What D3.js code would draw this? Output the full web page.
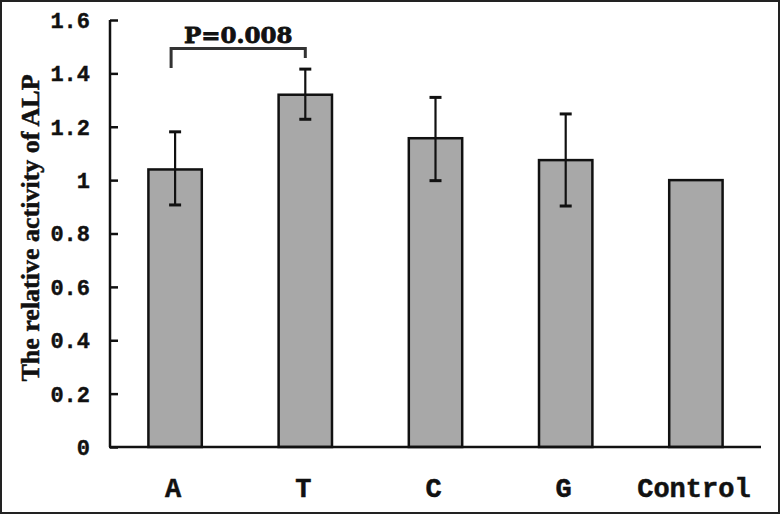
<!DOCTYPE html>
<html>

<head>
  <meta charset="UTF-8">
  <style>
    body { margin: 0; background: #fff; }
    svg { display: block; }
    .tick-label { font-family: "Liberation Mono", monospace; font-weight: bold; font-size: 22px; fill: #111; stroke: #111; stroke-width: 0.4px; }
    .cat-label { font-family: "Liberation Mono", monospace; font-weight: bold; font-size: 27px; fill: #111; stroke: #111; stroke-width: 0.5px; }
  </style>
</head>

<body>
  <svg></svg>
  <script src="https://d3js.org/d3.v7.min.js"></script>

  <script>
    // chart values
    let categories = ["A", "T", "C", "G", "Control"];
    let means = [1.04, 1.32, 1.157, 1.075, 1.0];
    let errLow = [0.907, 1.228, 0.998, 0.903, null];
    let errHigh = [1.181, 1.416, 1.31, 1.248, null];
    let yTicks = [0, 0.2, 0.4, 0.6, 0.8, 1, 1.2, 1.4, 1.6];
    let yTickLabels = ["0", "0.2", "0.4", "0.6", "0.8", "1", "1.2", "1.4", "1.6"];
    let yTitle = "The relative activity of ALP";
    let pText = "P=0.008";
    let pPair = ["A", "T"];

    let width = 780, height = 514;

    let svg = d3.select("svg")
      .attr("width", width)
      .attr("height", height);

    // outer frame
    svg.append("rect")
      .attr("x", 1).attr("y", 1)
      .attr("width", width - 2).attr("height", height - 2)
      .attr("fill", "#fff")
      .attr("stroke", "#222")
      .attr("stroke-width", 2);

    let x = d3.scaleBand()
      .domain(categories)
      .range([110, 761])
      .paddingInner(0.59)
      .paddingOuter(0.295);

    let y = d3.scaleLinear()
      .domain([0, 1.6])
      .range([447, 20]);

    // bars
    svg.append("g")
      .selectAll("rect")
      .data(categories)
      .enter()
      .append("rect")
      .attr("x", d => x(d))
      .attr("y", (d, i) => y(means[i]))
      .attr("width", x.bandwidth())
      .attr("height", (d, i) => y(0) - y(means[i]))
      .attr("fill", "#a8a8a8")
      .attr("stroke", "#111")
      .attr("stroke-width", 2.5);

    // error bars
    let eb = svg.append("g")
      .attr("stroke", "#111")
      .attr("stroke-width", 2.2);
    categories.forEach((c, i) => {
      if (errLow[i] == null) return;
      let cx = x(c) + x.bandwidth() / 2;
      eb.append("line")
        .attr("x1", cx).attr("x2", cx)
        .attr("y1", y(errLow[i])).attr("y2", y(errHigh[i]));
      [errLow[i], errHigh[i]].forEach(v => {
        eb.append("line")
          .attr("x1", cx - 6).attr("x2", cx + 6)
          .attr("y1", y(v)).attr("y2", y(v))
          .attr("stroke-width", 3);
      });
    });

    // y axis
    let yAxis = d3.axisRight(y)
      .tickValues(yTicks)
      .tickSize(8)
      .tickFormat("");
    let ya = svg.append("g")
      .attr("transform", "translate(110,0)")
      .call(yAxis);
    ya.select(".domain").attr("stroke", "#111").attr("stroke-width", 2.5)
      .attr("d", "M0," + y(1.6) + "V" + y(0));
    ya.selectAll(".tick line").attr("stroke", "#111").attr("stroke-width", 2.5);

    svg.append("g")
      .selectAll("text")
      .data(yTicks)
      .enter()
      .append("text")
      .attr("class", "tick-label")
      .attr("x", 90)
      .attr("y", d => y(d))
      .attr("dy", "0.36em")
      .attr("text-anchor", "end")
      .text((d, i) => yTickLabels[i]);

    // x axis line
    svg.append("line")
      .attr("x1", 109).attr("x2", 761)
      .attr("y1", y(0)).attr("y2", y(0))
      .attr("stroke", "#111")
      .attr("stroke-width", 2.5);

    svg.append("g")
      .selectAll("text")
      .data(categories)
      .enter()
      .append("text")
      .attr("class", "cat-label")
      .attr("x", d => x(d) + x.bandwidth() / 2 - 2)
      .attr("y", 497)
      .attr("text-anchor", "middle")
      .text(d => d);

    // y title
    svg.append("text")
      .attr("transform", "translate(39," + 228 + ") rotate(-90)")
      .attr("text-anchor", "middle")
      .style("font-family", "'Liberation Serif', serif")
      .style("font-weight", "bold")
      .style("font-size", "26px")
      .attr("fill", "#111")
      .attr("stroke", "#111")
      .attr("stroke-width", 0.5)
      .text(yTitle);

    // significance bracket
    let xa = x(pPair[0]) + x.bandwidth() / 2 - 4;
    let xb = x(pPair[1]) + x.bandwidth() / 2;
    let by = 48.5;
    svg.append("path")
      .attr("d", "M" + xa + ",68V" + by + "H" + xb + "V58")
      .attr("fill", "none")
      .attr("stroke", "#333")
      .attr("stroke-width", 3);
    svg.append("text")
      .attr("x", (xa + xb) / 2)
      .attr("y", 43)
      .attr("text-anchor", "middle")
      .style("font-family", "'DejaVu Serif', serif")
      .style("font-weight", "bold")
      .style("font-size", "23px")
      .attr("fill", "#111")
      .attr("stroke", "#111")
      .attr("stroke-width", 0.8)
      .text(pText);
  </script>

</body>

</html>
